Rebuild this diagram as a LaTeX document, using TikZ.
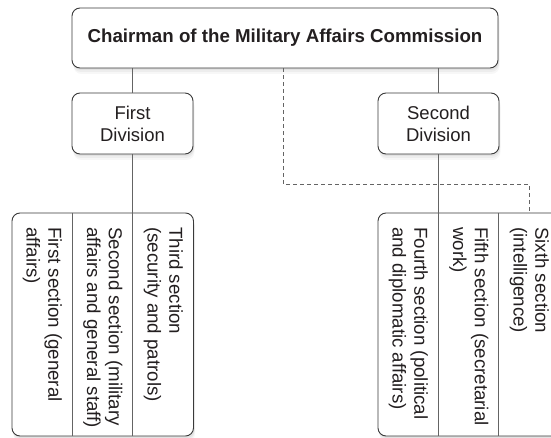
\documentclass[tikz,border=0pt]{standalone}
\usepackage{fontspec}
\setmainfont{Liberation Sans}
\setsansfont{Liberation Sans}
\definecolor{edge}{HTML}{3A3A3A}
\definecolor{wire}{HTML}{646464}
\definecolor{ink}{HTML}{231F20}

\begin{document}
\begin{tikzpicture}[
  x=1pt, y=-1pt,
  font=\sffamily\fontsize{18.5}{22}\selectfont,
  every node/.style={align=center,text=ink},
  softshadow/.style={
    preaction={fill=black,opacity=0.05,transform canvas={xshift=1pt,yshift=-2pt}},
    preaction={fill=black,opacity=0.04,transform canvas={xshift=1pt,yshift=-4pt}},
    preaction={fill=black,opacity=0.03,transform canvas={xshift=1.5pt,yshift=-6pt}}},
  box/.style={draw=edge,line width=0.9pt,rounded corners=8pt,fill=white,softshadow},
  group/.style={box,minimum width=181.5,minimum height=223,inner sep=0pt},
  section/.style={rotate=-90,anchor=west,align=left,inner sep=0pt,
    font=\sffamily\fontsize{18.7}{21.7}\selectfont},
  link/.style={draw=wire,line width=0.9pt},
  weak/.style={link,dashed,dash pattern=on 4pt off 3pt}]

\useasboundingbox (0,0) rectangle (551,438);

% Top of the chart and the two divisions
\node[box,minimum width=426,minimum height=60,font=\sffamily\bfseries\fontsize{18.7}{22}\selectfont]
  (chairman) at (285,38) {Chairman of the Military Affairs Commission};
\node[box,minimum width=121,minimum height=61] (firstDiv) at (132.5,123.5) {First\\Division};
\node[box,minimum width=121,minimum height=61] (secondDiv) at (438.5,123.5) {Second\\Division};

% The two groups of sections
\node[group] (firstGroup) at (102.75,324.5) {};
\node[group] (secondGroup) at (468.75,324.5) {};

% Column rules inside the groups
\draw[link] ([xshift=60.5pt]firstGroup.north west) -- ([xshift=60.5pt]firstGroup.south west);
\draw[link] ([xshift=121pt]secondGroup.north west) -- ([xshift=121pt]secondGroup.south west);

% Sections, read top to bottom
\node[section] (firstSec) at (42.25,227) {First section (general\\affairs)};
\node[section] (secondSec) at (102.75,227) {Second section (military\\affairs and general staff)};
\node[section] (thirdSec) at (163.25,227) {Third section\\(security and patrols)};
\node[section] (fourthSec) at (408.25,227) {Fourth section (political\\and diplomatic affairs)};
\node[section] (fifthSec) at (468.75,227) {Fifth section (secretarial\\work)};
\node[section] (sixthSec) at (529.25,227) {Sixth section\\(intelligence)};

% Lines of command
\draw[link] (chairman.south -| firstDiv) -- (firstDiv.north);
\draw[link] (chairman.south -| secondDiv) -- (secondDiv.north);
\draw[link] (firstDiv.south) -- (firstDiv.south |- firstGroup.south);
\draw[link] (secondDiv.south) -- (secondDiv.south |- secondGroup.south);
\draw[weak] ([xshift=-2pt]chairman.south) -- ++(0,116) -| (secondGroup.north -| sixthSec.west);
\end{tikzpicture}
\end{document}
